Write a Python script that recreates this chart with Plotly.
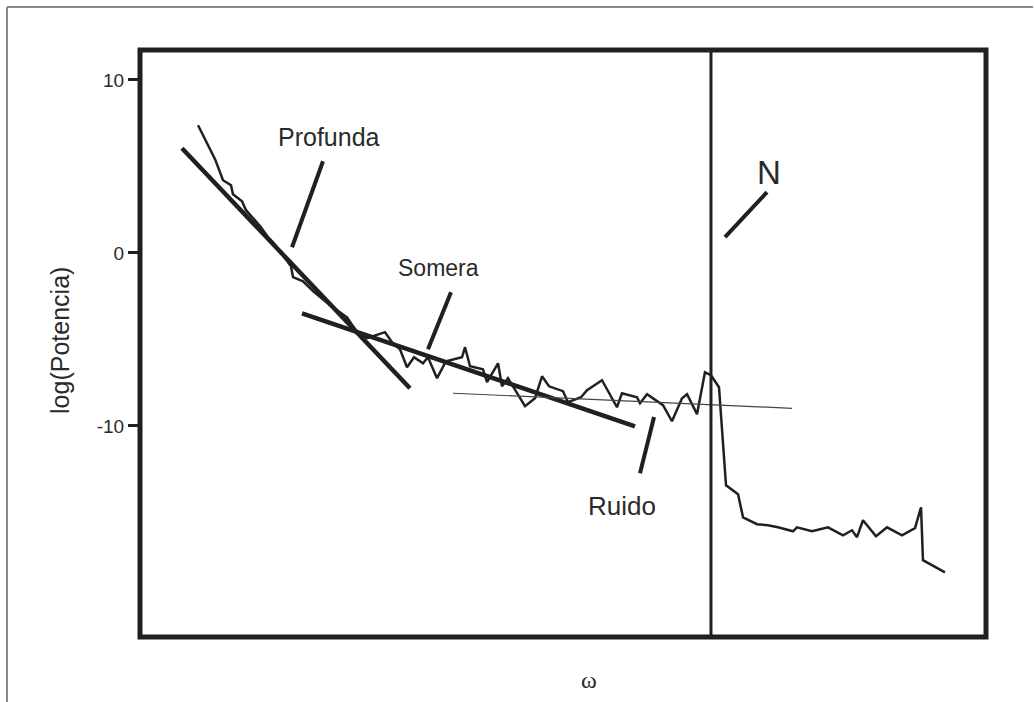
import plotly.graph_objects as go

# Power spectrum (omega in arbitrary units 0-100, log power)
omega = [6.86, 8.87, 9.81, 10.76, 10.99, 12.06, 12.53, 13.83, 14.30, 15.13,
         15.72, 17.85, 18.09, 19.27, 20.45, 22.46, 24.47, 25.65, 26.83, 28.96,
         29.79, 30.73, 31.56, 32.39, 33.45, 34.04, 35.11, 36.17, 38.06, 38.42,
         39.01, 40.54, 41.02, 42.32, 42.79, 43.50, 45.51, 46.69, 47.52, 48.35,
         50.00, 50.59, 52.13, 52.84, 54.61, 56.38, 56.97, 58.75, 59.10, 59.93,
         61.11, 61.82, 62.88, 64.07, 64.66, 65.84, 66.78, 67.49, 68.44, 69.27,
         70.69, 71.28, 72.93, 74.23, 75.41, 77.19, 77.66, 79.43, 81.32, 83.10,
         84.16, 84.75, 85.46, 87.00, 88.30, 90.07, 91.61, 92.32, 92.55, 95.15]
log_power = [7.38, 5.42, 4.20, 3.91, 3.39, 2.99, 2.47, 1.72, 1.49, 0.91,
             0.62, -0.77, -1.40, -1.64, -2.21, -3.02, -3.72, -4.58, -4.93, -4.58,
             -5.16, -5.57, -6.61, -6.03, -6.38, -6.03, -7.24, -6.26, -6.03, -5.45,
             -6.55, -6.72, -7.47, -6.38, -7.71, -7.24, -8.86, -8.40, -7.13, -7.71,
             -7.99, -8.63, -8.34, -7.94, -7.36, -8.92, -8.11, -8.34, -8.69, -8.17,
             -8.57, -8.80, -9.73, -8.40, -8.17, -9.32, -6.90, -7.07, -7.76, -13.43,
             -13.95, -15.28, -15.68, -15.74, -15.86, -16.09, -15.86, -16.09, -15.86, -16.32,
             -16.03, -16.43, -15.45, -16.38, -15.86, -16.32, -15.91, -14.70, -17.76, -18.46]

# Fitted straight segments (omega pairs, log power pairs)
fit_deep_x = [4.96, 31.91]
fit_deep_y = [6.05, -7.82]
fit_shallow_x = [19.15, 58.51]
fit_shallow_y = [-3.49, -10.02]
fit_noise_x = [37.0, 77.07]
fit_noise_y = [-8.11, -8.98]
nyquist = 67.49

# Labels: text, position, leader line
labels = ["Profunda", "Somera", "Ruido", "N"]
label_x = [22.34, 35.34, 56.97, 74.35]
label_y = [6.68, -0.89, -14.6, 4.66]
leader_x0 = [21.63, 36.76, 60.76, 74.11]
leader_y0 = [5.30, -2.27, -9.49, 3.51]
leader_x1 = [17.97, 34.04, 59.10, 69.15]
leader_y1 = [0.33, -5.57, -12.73, 0.91]
label_size = [25, 23, 26, 33]

yticks = [-10, 0, 10]

INK = "#231f20"
FONT = "Liberation Sans, Arial, sans-serif"

fig = go.Figure()
fig.add_trace(go.Scatter(x=omega, y=log_power, mode="lines",
                         line=dict(color=INK, width=2.5), showlegend=False))
fig.add_trace(go.Scatter(x=fit_deep_x, y=fit_deep_y, mode="lines",
                         line=dict(color=INK, width=4.5), showlegend=False))
fig.add_trace(go.Scatter(x=fit_shallow_x, y=fit_shallow_y, mode="lines",
                         line=dict(color=INK, width=4.5), showlegend=False))
fig.add_trace(go.Scatter(x=fit_noise_x, y=fit_noise_y, mode="lines",
                         line=dict(color="#444", width=1.2), showlegend=False))

shapes = []
shapes.append(dict(type="line", xref="x", yref="paper", x0=nyquist, x1=nyquist,
                   y0=0, y1=1, line=dict(color=INK, width=3)))
for i in range(len(labels)):
    shapes.append(dict(type="line", xref="x", yref="y",
                       x0=leader_x0[i], y0=leader_y0[i], x1=leader_x1[i], y1=leader_y1[i],
                       line=dict(color=INK, width=4)))
# plot frame
shapes.append(dict(type="rect", xref="paper", yref="paper", x0=0, x1=1, y0=0, y1=1,
                   line=dict(color=INK, width=5)))
# outer thin page frame (left and top)
shapes.append(dict(type="line", xref="paper", yref="paper", x0=-0.1572, x1=-0.1572,
                   y0=-0.2, y1=1.0733, line=dict(color="#8a8a8a", width=2)))
shapes.append(dict(type="line", xref="paper", yref="paper", x0=-0.1572, x1=1.0556,
                   y0=1.0733, y1=1.0733, line=dict(color="#8a8a8a", width=2)))

annotations = []
for i, t in enumerate(labels):
    annotations.append(dict(x=label_x[i], y=label_y[i], xref="x", yref="y", text=t,
                            showarrow=False, xanchor="center", yanchor="middle",
                            font=dict(family=FONT, size=label_size[i], color="#2a2a2a")))
annotations.append(dict(x=-0.0946, y=0.506, xref="paper", yref="paper", text="log(Potencia)",
                        textangle=-90, showarrow=False, xanchor="center", yanchor="middle",
                        font=dict(family=FONT, size=25, color="#2a2a2a")))
annotations.append(dict(x=0.531, y=-0.0733, xref="paper", yref="paper", text="ω",
                        showarrow=False, xanchor="center", yanchor="middle",
                        font=dict(family="Liberation Serif, Times New Roman, serif", size=24, color="#2a2a2a")))

fig.update_layout(
    width=1034, height=702,
    margin=dict(l=140, r=48, t=50, b=65),
    paper_bgcolor="white", plot_bgcolor="white",
    shapes=shapes, annotations=annotations,
    xaxis=dict(range=[0, 100], showgrid=False, zeroline=False, showticklabels=False,
               ticks="", showline=False),
    yaxis=dict(range=[-22.2, 11.73], showgrid=False, zeroline=False, showline=False,
               tickvals=yticks, ticktext=[str(v) for v in yticks], ticks="outside",
               ticklen=11, tickwidth=2.5, tickcolor=INK,
               tickfont=dict(family=FONT, size=19, color="#2a2a2a")),
)

fig.write_html("out.html", config={"displayModeBar": False},
               post_script="document.body.style.margin='0';")
